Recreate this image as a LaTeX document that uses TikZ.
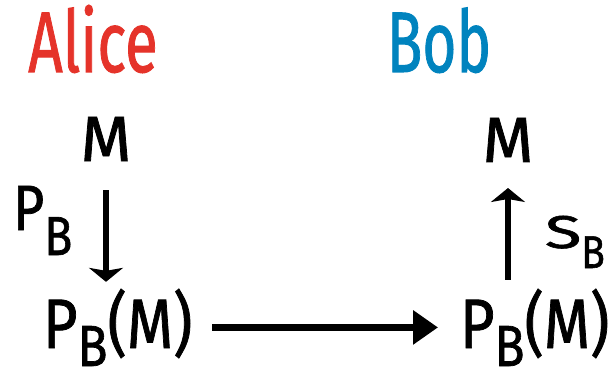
\documentclass[tikz,border=0pt]{standalone}
\usepackage{fontspec}
\setmainfont{Fira Sans}[FakeBold=1.2]
\usetikzlibrary{arrows.meta}
\definecolor{alicered}{HTML}{E5332A}
\definecolor{bobblue}{HTML}{0083BE}
\newcommand{\fsz}[1]{\fontsize{#1}{#1}\selectfont}
\newcommand{\narrow}[1]{\scalebox{0.84}[1]{#1}}
\begin{document}
\begin{tikzpicture}[x=1pt,y=-1pt,
  every node/.style={inner sep=0pt, outer sep=0pt},
  namelbl/.style={anchor=base, font=\fsz{86}},
  msym/.style={anchor=base, font=\fsz{64}},
  term/.style={anchor=base west, font=\fsz{70}},
  varr/.style={line width=6.5pt, -{Stealth[length=14pt,width=34pt,inset=3pt]}},
  harr/.style={line width=7pt, -{Triangle[length=25pt,width=33pt]}}]
\useasboundingbox (0,0) rectangle (615,382);
\node[namelbl, text=alicered] (alice) at (93,72) {\scalebox{0.7}[1]{Alice}};
\node[namelbl, text=bobblue] (bob) at (439,72) {\scalebox{0.68}[1]{Bob}};
\node[msym] (mL) at (106,161) {\scalebox{1.02}[1]{M}};
\node[msym] (mR) at (508,162) {\scalebox{1.02}[1]{M}};
\node[anchor=base west, font=\fsz{64}] (pblbl) at (13,230) {\narrow{P\raisebox{-25pt}{\fsz{55}B}}};
\node[anchor=base west, font=\fsz{46}] (sblbl) at (545,248) {\scalebox{1.45}[1]{S}\raisebox{-20pt}{\fsz{46}\narrow{B}}};
\node[term] (pL) at (43,348) {\scalebox{0.85}[1]{P\raisebox{-18pt}{\fsz{58}B}(M)}};
\node[term] (pR) at (460,348) {\scalebox{0.85}[1]{P\raisebox{-18pt}{\fsz{58}B}(M)}};
\draw[varr, shorten <=29pt, shorten >=7pt] (mL.south) -- (mL.south |- pL.north);
\draw[varr, shorten <=9pt, shorten >=26pt] (pR.north -| mR.south) -- (mR.south);
\draw[harr, shorten <=20pt, shorten >=22pt] (pL.east) -- (pL.east -| pR.west);
\end{tikzpicture}
\end{document}
